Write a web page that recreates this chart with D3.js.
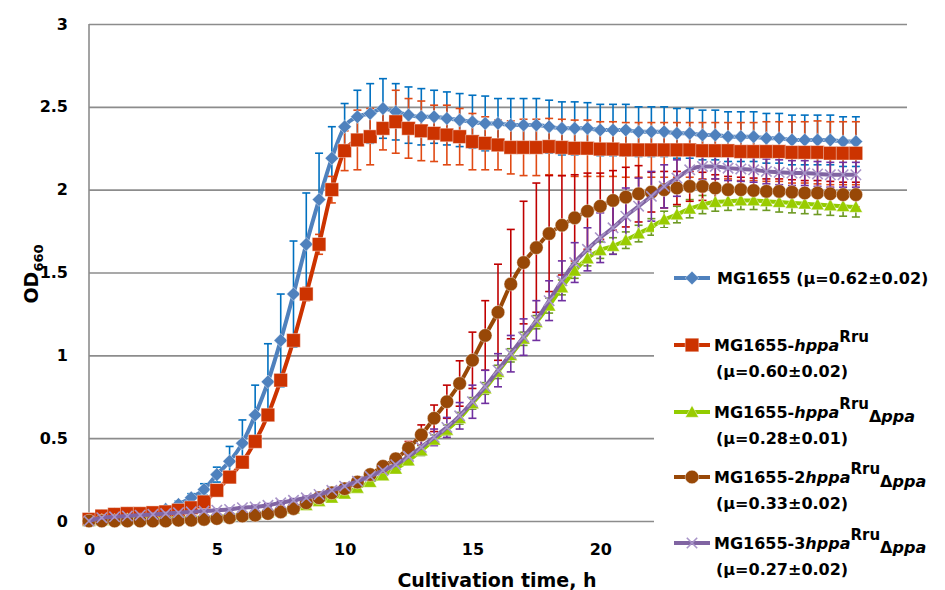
<!DOCTYPE html>
<html>
<head>
<meta charset="utf-8">
<script src="https://cdn.jsdelivr.net/npm/d3@7"></script>
<style>
  body { margin: 0; background: #fff; }
  svg { display: block; font-family: "DejaVu Sans", sans-serif; font-weight: bold; }
</style>
</head>
<body>
<svg id="chart" width="945" height="590"></svg>
<script>
// cultivation time, h
const hours = [0,0.5,1,1.5,2,2.5,3,3.5,4,4.5,
  5,5.5,6,6.5,7,7.5,8,8.5,9,9.5,
  10,10.5,11,11.5,12,12.5,13,13.5,14,14.5,
  15,15.5,16,16.5,17,17.5,18,18.5,19,19.5,
  20,20.5,21,21.5,22,22.5,23,23.5,24,24.5,
  25,25.5,26,26.5,27,27.5,28,28.5,29,29.5,
  30];

// OD660 per strain
const mg1655 = [0.01,0.03,0.04,0.045,0.045,0.05,0.07,0.1,0.14,0.19,
  0.28,0.36,0.47,0.64,0.84,1.09,1.37,1.67,1.94,2.19,
  2.38,2.44,2.46,2.49,2.47,2.45,2.44,2.44,2.43,2.42,
  2.41,2.40,2.40,2.39,2.39,2.39,2.38,2.37,2.37,2.37,
  2.36,2.36,2.36,2.35,2.35,2.35,2.34,2.34,2.33,2.33,
  2.32,2.32,2.32,2.31,2.31,2.30,2.30,2.30,2.30,2.29,
  2.29];
const mg1655Err = [0.01,0.01,0.01,0.01,0.01,0.01,0.015,0.02,0.025,0.035,
  0.045,0.09,0.14,0.18,0.23,0.28,0.32,0.31,0.28,0.19,
  0.14,0.16,0.18,0.18,0.17,0.17,0.17,0.16,0.16,0.16,
  0.16,0.165,0.15,0.16,0.16,0.16,0.16,0.16,0.16,0.155,
  0.155,0.155,0.155,0.15,0.15,0.15,0.15,0.15,0.15,0.15,
  0.15,0.15,0.15,0.15,0.15,0.15,0.15,0.15,0.15,0.15,
  0.15];

const hppa = [0.01,0.03,0.04,0.045,0.045,0.05,0.055,0.065,0.08,0.115,
  0.185,0.265,0.355,0.48,0.64,0.85,1.09,1.37,1.67,2.0,
  2.235,2.30,2.32,2.37,2.41,2.37,2.355,2.34,2.33,2.32,
  2.29,2.28,2.27,2.255,2.255,2.255,2.26,2.255,2.25,2.25,
  2.245,2.245,2.24,2.24,2.24,2.24,2.24,2.24,2.235,2.235,
  2.235,2.23,2.23,2.23,2.23,2.225,2.225,2.225,2.22,2.22,
  2.22];
const hppaErr = [0.01,0.01,0.01,0.01,0.01,0.01,0.01,0.01,0.01,0.015,
  0.015,0.02,0.02,0.025,0.03,0.03,0.03,0.04,0.06,0.08,
  0.12,0.18,0.17,0.13,0.19,0.18,0.18,0.17,0.18,0.17,
  0.17,0.16,0.15,0.16,0.17,0.17,0.17,0.17,0.17,0.17,
  0.165,0.165,0.165,0.165,0.165,0.165,0.165,0.165,0.17,0.17,
  0.17,0.175,0.175,0.18,0.18,0.185,0.185,0.19,0.19,0.19,
  0.19];

const hppaDppa = [0.0,0.005,0.005,0.01,0.01,0.01,0.015,0.015,0.02,0.02,
  0.025,0.03,0.035,0.04,0.05,0.06,0.075,0.095,0.12,0.14,
  0.165,0.2,0.235,0.275,0.315,0.365,0.425,0.49,0.55,0.62,
  0.71,0.80,0.90,1.0,1.1,1.2,1.3,1.41,1.51,1.585,
  1.635,1.66,1.695,1.735,1.775,1.82,1.85,1.885,1.91,1.925,
  1.93,1.935,1.935,1.93,1.925,1.92,1.915,1.91,1.905,1.90,
  1.895];
const hppaDppaErr = [0.005,0.005,0.005,0.005,0.005,0.005,0.005,0.005,0.005,0.005,
  0.005,0.005,0.005,0.01,0.01,0.01,0.01,0.015,0.015,0.015,
  0.02,0.02,0.02,0.02,0.025,0.025,0.03,0.03,0.03,0.035,
  0.035,0.035,0.04,0.04,0.04,0.04,0.045,0.045,0.045,0.045,
  0.05,0.05,0.05,0.05,0.05,0.05,0.05,0.055,0.055,0.055,
  0.055,0.055,0.055,0.055,0.06,0.06,0.06,0.06,0.06,0.06,
  0.06];

const twoHppa = [0.0,0.0,0.0,0.0,0.0,0.0,0.0,0.005,0.005,0.01,
  0.015,0.02,0.03,0.035,0.045,0.055,0.075,0.11,0.14,0.17,
  0.195,0.235,0.28,0.33,0.375,0.44,0.52,0.62,0.72,0.83,
  0.97,1.12,1.26,1.43,1.56,1.65,1.735,1.785,1.83,1.87,
  1.90,1.935,1.955,1.975,1.985,2.0,2.01,2.02,2.02,2.01,
  2.0,2.0,1.995,1.99,1.99,1.985,1.98,1.98,1.975,1.97,
  1.97];
const twoHppaErr = [0.005,0.005,0.005,0.005,0.005,0.005,0.005,0.005,0.005,0.005,
  0.005,0.005,0.005,0.005,0.005,0.005,0.01,0.01,0.01,0.01,
  0.01,0.015,0.02,0.025,0.03,0.04,0.06,0.08,0.1,0.137,
  0.17,0.21,0.29,0.33,0.37,0.39,0.35,0.3,0.26,0.23,
  0.2,0.18,0.18,0.17,0.12,0.11,0.1,0.09,0.085,0.08,
  0.08,0.075,0.075,0.075,0.075,0.075,0.075,0.075,0.075,0.075,
  0.075];

const threeHppa = [0.0,0.02,0.025,0.03,0.035,0.04,0.045,0.05,0.055,0.06,
  0.065,0.07,0.08,0.085,0.095,0.11,0.125,0.14,0.16,0.185,
  0.21,0.24,0.27,0.305,0.34,0.39,0.445,0.505,0.565,0.635,
  0.72,0.81,0.91,1.01,1.11,1.21,1.33,1.45,1.56,1.64,
  1.71,1.77,1.84,1.90,1.96,2.02,2.07,2.12,2.14,2.14,
  2.13,2.125,2.12,2.11,2.105,2.10,2.10,2.095,2.09,2.09,
  2.09];
const threeHppaErr = [0.005,0.005,0.005,0.005,0.005,0.005,0.005,0.005,0.005,0.005,
  0.005,0.005,0.005,0.01,0.01,0.01,0.01,0.01,0.015,0.015,
  0.015,0.02,0.02,0.025,0.03,0.035,0.045,0.05,0.06,0.08,
  0.1,0.1,0.1,0.11,0.11,0.12,0.12,0.12,0.12,0.13,
  0.15,0.16,0.17,0.17,0.15,0.13,0.11,0.09,0.08,0.075,
  0.075,0.075,0.075,0.075,0.075,0.075,0.075,0.075,0.075,0.075,
  0.075];

const yTicks = [0, 0.5, 1, 1.5, 2, 2.5, 3];
const xTicks = [0, 5, 10, 15, 20];

const series = [
  {values: mg1655, errors: mg1655Err, line: "#4f81bd", bar: "#0070c0", fill: "#4f81bd", marker: "diamond",
   label: [["MG1655 (μ=0.62±0.02)"]]},
  {values: hppa, errors: hppaErr, line: "#cc3300", bar: "#e04a14", fill: "#cc3300", marker: "square",
   label: [["MG1655-", "", "n"], ["hppa", "i", "n"], ["Rru", "", "sup"]], mu: "(μ=0.60±0.02)"},
  {values: hppaDppa, errors: hppaDppaErr, line: "#92cc00", bar: "#6e9a24", fill: "#99cc00", marker: "triangle",
   label: [["MG1655-", "", "n"], ["hppa", "i", "n"], ["Rru", "", "sup"], ["Δ", "", "sub"], ["ppa", "i", "sub"]], mu: "(μ=0.28±0.01)"},
  {values: twoHppa, errors: twoHppaErr, line: "#984807", bar: "#c00000", fill: "#984807", marker: "circle",
   label: [["MG1655-2", "", "n"], ["hppa", "i", "n"], ["Rru", "", "sup"], ["Δ", "", "sub"], ["ppa", "i", "sub"]], mu: "(μ=0.33±0.02)"},
  {values: threeHppa, errors: threeHppaErr, line: "#8064a2", bar: "#7030a0", fill: "#a894c8", marker: "cross",
   label: [["MG1655-3", "", "n"], ["hppa", "i", "n"], ["Rru", "", "sup"], ["Δ", "", "sub"], ["ppa", "i", "sub"]], mu: "(μ=0.27±0.02)"}
];

const margin = {top: 24, right: 38, bottom: 69, left: 89};
const width = 945 - margin.left - margin.right;
const height = 590 - margin.top - margin.bottom;

const svg = d3.select("#chart");
const g = svg.append("g").attr("transform", `translate(${margin.left},${margin.top})`);

const x = d3.scaleLinear().domain([0, 32]).range([0, width]);
const y = d3.scaleLinear().domain([0, 3]).range([height, 0]);

// gridlines + y labels
const yAxis = g.append("g")
  .call(d3.axisLeft(y).tickValues(yTicks).tickSize(-width).tickPadding(21).tickFormat(d3.format("")));
yAxis.select(".domain").remove();
yAxis.selectAll(".tick line").attr("stroke", "#8c8c8c").attr("stroke-width", 1.6);
yAxis.selectAll(".tick text").attr("font-size", 16).attr("font-family", "DejaVu Sans").attr("font-weight", "bold").attr("fill", "#000");

g.append("line").attr("x1", 0).attr("x2", 0).attr("y1", 0).attr("y2", height)
  .attr("stroke", "#8c8c8c").attr("stroke-width", 1.6);

const xAxis = g.append("g").attr("transform", `translate(0,${height})`)
  .call(d3.axisBottom(x).tickValues(xTicks).tickSize(0).tickPadding(23));
xAxis.select(".domain").remove();
xAxis.selectAll(".tick text").attr("font-size", 16).attr("font-family", "DejaVu Sans").attr("font-weight", "bold").attr("fill", "#000");

function markerPath(type, s) {
  if (type === "diamond") return `M0,${-s}L${s},0L0,${s}L${-s},0Z`;
  if (type === "square") return `M${-s},${-s}H${s}V${s}H${-s}Z`;
  if (type === "triangle") return `M0,${-s}L${s},${s * 0.8}L${-s},${s * 0.8}Z`;
  if (type === "circle") return d3.symbol(d3.symbolCircle, Math.PI * s * s)();
  return `M${-s},${-s}L${s},${s}M${-s},${s}L${s},${-s}`;
}
const markerSize = {diamond: 6.8, square: 6.8, triangle: 6.6, circle: 6.8, cross: 5.2};

function drawMarker(sel, s, sz) {
  if (s.marker === "cross") {
    sel.attr("d", markerPath("cross", sz)).attr("fill", "none").attr("stroke", s.fill).attr("stroke-width", 1.6);
  } else {
    sel.attr("d", markerPath(s.marker, sz)).attr("fill", s.fill)
      .attr("stroke", "#fff").attr("stroke-width", 0.6).attr("stroke-opacity", 0.7);
  }
}

// error bars
series.forEach(s => {
  const eb = g.append("g").attr("stroke", s.bar).attr("stroke-width", 1.6).attr("fill", "none");
  hours.forEach((h, i) => {
    const cx = x(h), hi = y(s.values[i] + s.errors[i]), lo = y(s.values[i] - s.errors[i]);
    eb.append("line").attr("x1", cx).attr("x2", cx).attr("y1", hi).attr("y2", lo);
    eb.append("line").attr("x1", cx - 4).attr("x2", cx + 4).attr("y1", hi).attr("y2", hi);
    eb.append("line").attr("x1", cx - 4).attr("x2", cx + 4).attr("y1", lo).attr("y2", lo);
  });
});

// lines + markers
const line = d3.line().x((d, i) => x(hours[i])).y(d => y(d)).curve(d3.curveMonotoneX);
series.forEach(s => {
  g.append("path").datum(s.values).attr("d", line)
    .attr("fill", "none").attr("stroke", s.line).attr("stroke-width", 4).attr("stroke-linejoin", "round");
  g.append("g").selectAll("path").data(s.values).join("path")
    .attr("transform", (d, i) => `translate(${x(hours[i])},${y(d)})`)
    .call(sel => drawMarker(sel, s, markerSize[s.marker]));
});

// legend box (white, covers the lower right of the plot)
svg.append("rect").attr("x", 654).attr("y", 228).attr("width", 291).attr("height", 362).attr("fill", "#fff");

const legendY = [278, 345, 412, 477, 543];
const lg = svg.append("g");
series.forEach((s, k) => {
  const cy = legendY[k];
  lg.append("line").attr("x1", 674).attr("x2", 710).attr("y1", cy).attr("y2", cy)
    .attr("stroke", s.line).attr("stroke-width", 4);
  lg.append("path").attr("transform", `translate(692,${cy})`)
    .call(sel => drawMarker(sel, s, markerSize[s.marker]));
  const t = lg.append("text").attr("x", k === 0 ? 717 : 714).attr("y", cy + 6).attr("font-size", 16);
  let shift = 0;
  s.label.forEach(([txt, style, pos]) => {
    const target = pos === "sup" ? -9 : pos === "sub" ? 4 : 0;
    const ts = t.append("tspan").text(txt).attr("dy", target - shift);
    if (style === "i") ts.attr("font-style", "italic");
    if (pos === "sup") ts.attr("font-size", 15);
    shift = target;
  });
  if (s.mu) {
    lg.append("text").attr("x", 716).attr("y", cy + 32).attr("font-size", 16).text(s.mu);
  }
});

// axis titles
svg.append("text").attr("x", 497).attr("y", 587).attr("text-anchor", "middle")
  .attr("font-size", 19).text("Cultivation time, h");

const yl = svg.append("text").attr("transform", "translate(38,274) rotate(-90)")
  .attr("text-anchor", "middle").attr("font-size", 19);
yl.append("tspan").text("OD");
yl.append("tspan").text("660").attr("font-size", 13).attr("dy", 5);
</script>
</body>
</html>
